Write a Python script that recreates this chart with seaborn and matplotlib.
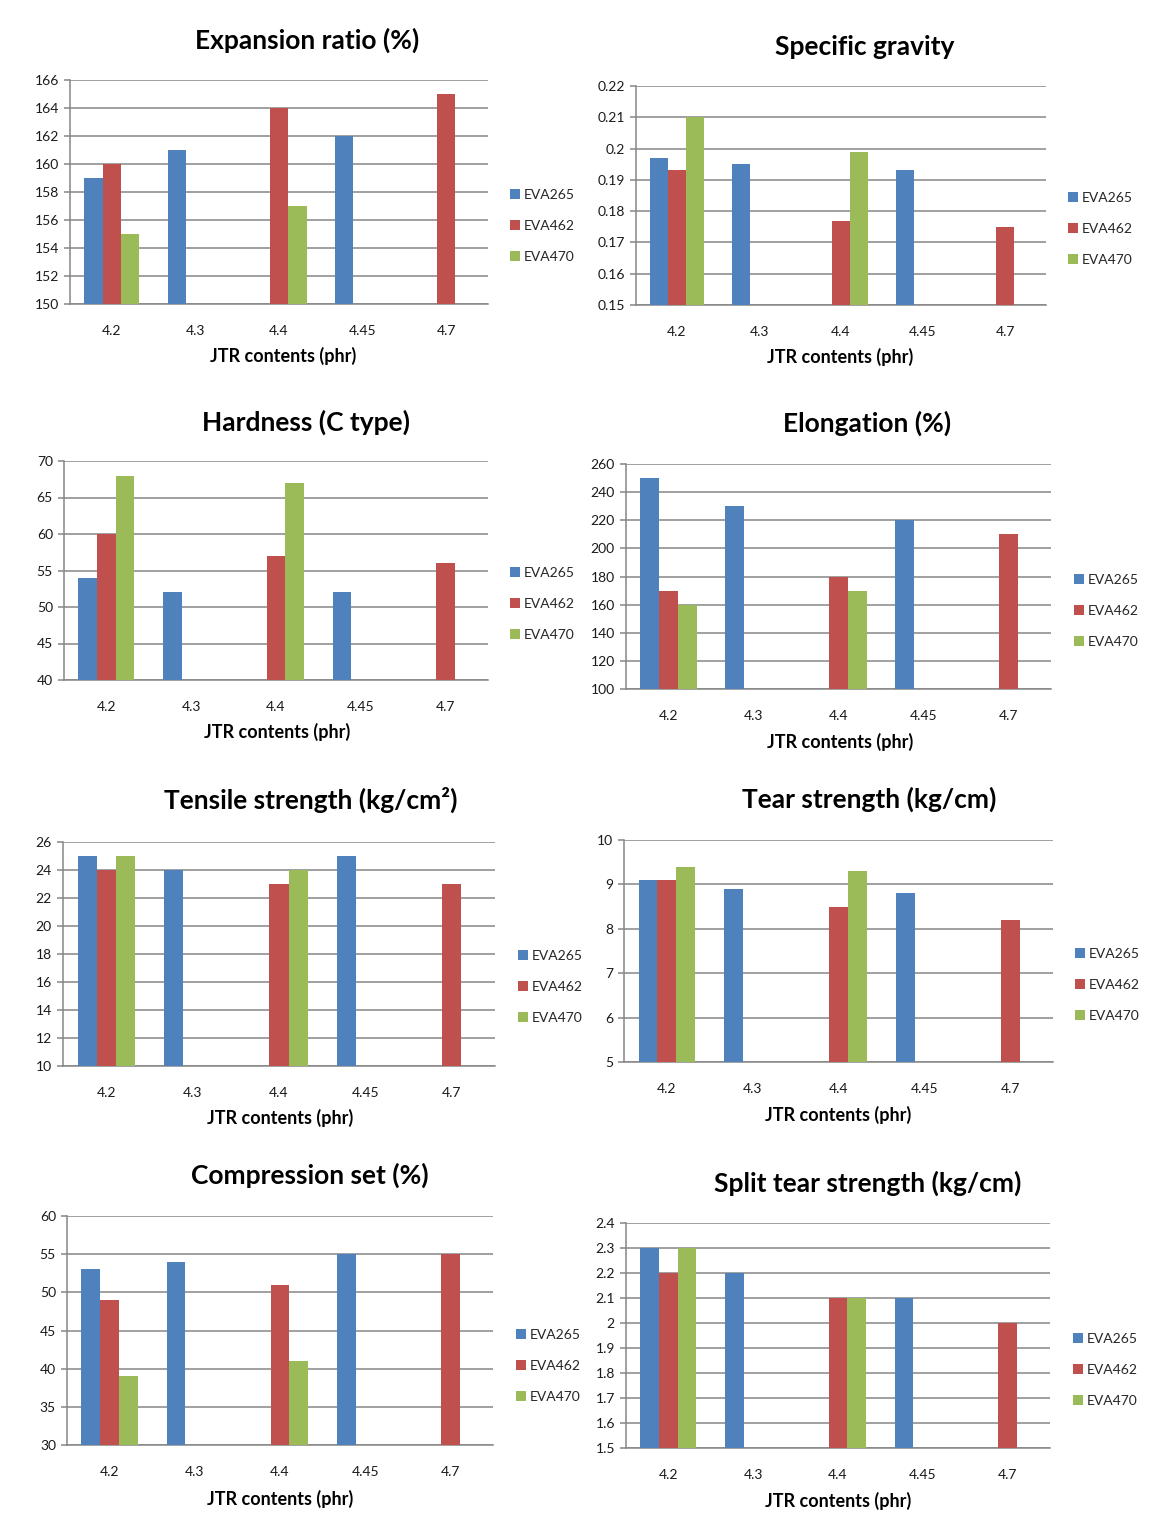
import numpy as np
import pandas as pd
import matplotlib
matplotlib.use("Agg")
import matplotlib.pyplot as plt
import seaborn as sns

# ---------------- data ----------------
categories = ["4.2", "4.3", "4.4", "4.45", "4.7"]
series = ["EVA265", "EVA462", "EVA470"]
nan = np.nan

expansion_265 = [159, 161, nan, 162, nan]
expansion_462 = [160, nan, 164, nan, 165]
expansion_470 = [155, nan, 157, nan, nan]

gravity_265 = [0.197, 0.195, nan, 0.193, nan]
gravity_462 = [0.193, nan, 0.177, nan, 0.175]
gravity_470 = [0.210, nan, 0.199, nan, nan]

hardness_265 = [54, 52, nan, 52, nan]
hardness_462 = [60, nan, 57, nan, 56]
hardness_470 = [68, nan, 67, nan, nan]

elongation_265 = [250, 230, nan, 220, nan]
elongation_462 = [170, nan, 180, nan, 210]
elongation_470 = [160, nan, 170, nan, nan]

tensile_265 = [25, 24, nan, 25, nan]
tensile_462 = [24, nan, 23, nan, 23]
tensile_470 = [25, nan, 24, nan, nan]

tear_265 = [9.1, 8.9, nan, 8.8, nan]
tear_462 = [9.1, nan, 8.5, nan, 8.2]
tear_470 = [9.4, nan, 9.3, nan, nan]

compression_265 = [53, 54, nan, 55, nan]
compression_462 = [49, nan, 51, nan, 55]
compression_470 = [39, nan, 41, nan, nan]

split_265 = [2.3, 2.2, nan, 2.1, nan]
split_462 = [2.2, nan, 2.1, nan, 2.0]
split_470 = [2.3, nan, 2.1, nan, nan]

titles = ["Expansion ratio (%)", "Specific gravity", "Hardness (C type)", "Elongation (%)",
          "Tensile strength (kg/cm²)", "Tear strength (kg/cm)", "Compression set (%)",
          "Split tear strength (kg/cm)"]
y_ticks = [
    [150, 152, 154, 156, 158, 160, 162, 164, 166],
    [0.15, 0.16, 0.17, 0.18, 0.19, 0.2, 0.21, 0.22],
    [40, 45, 50, 55, 60, 65, 70],
    [100, 120, 140, 160, 180, 200, 220, 240, 260],
    [10, 12, 14, 16, 18, 20, 22, 24, 26],
    [5, 6, 7, 8, 9, 10],
    [30, 35, 40, 45, 50, 55, 60],
    [1.5, 1.6, 1.7, 1.8, 1.9, 2, 2.1, 2.2, 2.3, 2.4],
]
x_label = "JTR contents (phr)"

panel_values = [
    (expansion_265, expansion_462, expansion_470),
    (gravity_265, gravity_462, gravity_470),
    (hardness_265, hardness_462, hardness_470),
    (elongation_265, elongation_462, elongation_470),
    (tensile_265, tensile_462, tensile_470),
    (tear_265, tear_462, tear_470),
    (compression_265, compression_462, compression_470),
    (split_265, split_462, split_470),
]

# ---------------- layout (pixels) ----------------
W, H = 1162, 1524
# L, R, T, B of plot area
boxes = [
    (70, 488, 80, 304), (636, 1046, 86, 305),
    (64, 488, 461, 680), (626, 1051, 464, 689),
    (63, 495, 842, 1066), (624, 1053, 840, 1062),
    (67, 493, 1216, 1445), (626, 1050, 1223, 1448),
]
title_pos = [(307, 40), (865, 47), (306, 422), (867, 423),
             (311, 800), (869, 799), (310, 1175), (868, 1183)]
xlabel_pos = [(283, 356), (840, 357), (277, 732), (840, 742),
              (280, 1118), (838, 1115), (280, 1499), (838, 1501)]
legend_pos = [(510, 226), (1068, 229), (510, 604), (1074, 611),
              (518, 987), (1075, 985), (516, 1366), (1073, 1370)]

colors = ["#4F81BD", "#C0504D", "#9BBB59"]
grid_c = "#868686"

sns.set_theme(style="white")
plt.rcParams["font.family"] = ["Lato", "DejaVu Sans"]

fig = plt.figure(figsize=(W / 100, H / 100), dpi=100)
fig.patch.set_facecolor("white")

for i, vals in enumerate(panel_values):
    L, R, T, B = boxes[i]
    ax = fig.add_axes([L / W, 1 - B / H, (R - L) / W, (B - T) / H])
    rows = []
    for s, arr in zip(series, vals):
        for c, v in zip(categories, arr):
            if not np.isnan(v):
                rows.append({"JTR": c, "value": v, "series": s})
    df = pd.DataFrame(rows)
    sns.barplot(data=df, x="JTR", y="value", hue="series", order=categories,
                hue_order=series, palette=colors, width=0.66, ax=ax,
                saturation=1, errorbar=None, linewidth=0, zorder=3)
    ticks = y_ticks[i]
    ax.set_ylim(ticks[0], ticks[-1])
    ax.set_xlim(-0.5, len(categories) - 0.5)
    ax.set_yticks(ticks)
    ax.set_yticklabels([f"{t:g}" for t in ticks])
    ax.yaxis.grid(True, color=grid_c, linewidth=1.1, zorder=0)
    ax.set_axisbelow(True)
    for sp in ["top", "right"]:
        ax.spines[sp].set_visible(False)
    for sp in ["left", "bottom"]:
        ax.spines[sp].set_color(grid_c)
        ax.spines[sp].set_linewidth(1.1)
    ax.tick_params(axis="y", length=4, width=1.1, color=grid_c, pad=4,
                   labelsize=10, labelcolor="#1a1a1a", left=True)
    ax.tick_params(axis="x", length=0, pad=15, labelsize=10, labelcolor="#1a1a1a")
    ax.set_xlabel("")
    ax.set_ylabel("")
    h, l = ax.get_legend_handles_labels()
    lx, ly = legend_pos[i]
    ax.legend(h, l, loc="center left", bbox_to_anchor=(lx / W, 1 - ly / H),
              bbox_transform=fig.transFigure, frameon=False, fontsize=10,
              handlelength=0.75, handleheight=0.75, handletextpad=0.25,
              labelspacing=1.35, borderpad=0, borderaxespad=0)
    tx, ty = title_pos[i]
    fig.text(tx / W, 1 - ty / H, titles[i], ha="center", va="center",
             fontsize=19, fontweight="bold", color="black")
    xx, xy = xlabel_pos[i]
    fig.text(xx / W, 1 - xy / H, x_label, ha="center", va="center",
             fontsize=13, fontweight="bold", color="black")

fig.savefig("out.png", dpi=100, facecolor="white")
